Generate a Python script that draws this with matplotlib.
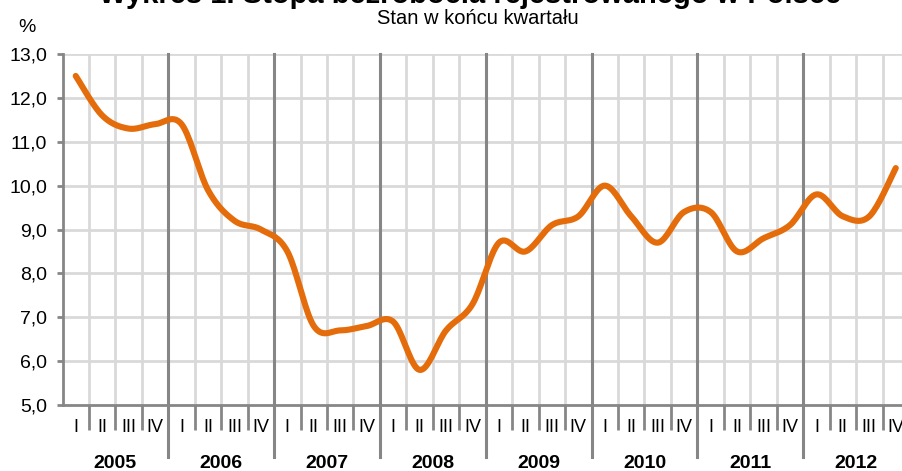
import matplotlib.pyplot as plt
import matplotlib.transforms as mtransforms
import numpy as np

# end-of-quarter values, 2005 Q1 .. 2012 Q4
years = ["2005", "2006", "2007", "2008", "2009", "2010", "2011", "2012"]
quarters = ["I", "II", "III", "IV"]
rate = [12.5, 11.6, 11.3, 11.4,
        11.4, 9.9, 9.2, 9.0,
        8.5, 6.8, 6.7, 6.8,
        6.9, 5.8, 6.7, 7.3,
        8.7, 8.5, 9.1, 9.3,
        10.0, 9.3, 8.7, 9.4,
        9.4, 8.5, 8.8, 9.1,
        9.8, 9.3, 9.3, 10.4]
yticks = [5, 6, 7, 8, 9, 10, 11, 12, 13]

orange = "#E46C0A"
light = "#D9D9D9"
dark = "#868686"

plt.rcParams['font.family'] = ['Liberation Sans', 'DejaVu Sans']


def smooth(x, y, n=20):
    # excel-like smoothed line (catmull-rom through the points)
    p = np.column_stack([x, y])
    p = np.vstack([p[0], p, p[-1]])
    out = []
    for i in range(1, len(p) - 2):
        p0, p1, p2, p3 = p[i - 1], p[i], p[i + 1], p[i + 2]
        c1 = p1 + (p2 - p0) / 6
        c2 = p2 - (p3 - p1) / 6
        t = np.linspace(0, 1, n)[:, None]
        seg = ((1 - t) ** 3 * p1 + 3 * (1 - t) ** 2 * t * c1
               + 3 * (1 - t) * t ** 2 * c2 + t ** 3 * p2)
        out.append(seg if i == 1 else seg[1:])
    s = np.vstack(out)
    return s[:, 0], s[:, 1]


W, H = 902, 471
fig = plt.figure(figsize=(W / 100, H / 100), dpi=100)
left, right, top, bottom = 62.5, 909, 54, 405
ph = bottom - top
ax = fig.add_axes([left / W, (H - bottom) / H, (right - left) / W, ph / H])

n = len(rate)
x = np.arange(n) + 0.5
ax.set_xlim(0, n)
ax.set_ylim(5, 13)

# grid
for v in yticks[1:]:
    ax.axhline(v, color=light, lw=2, zorder=1)
for b in range(1, n):
    if b % 4 == 0:
        ax.axvline(b, ymin=-52 / ph, ymax=1, color=dark, lw=2.2, zorder=2, clip_on=False)
    else:
        ax.axvline(b, color=light, lw=2, zorder=1)

sx, sy = smooth(x, rate)
ax.plot(sx, sy, color=orange, lw=4.4, solid_capstyle='round', zorder=3)

for s in ["top", "right"]:
    ax.spines[s].set_visible(False)
for s in ["left", "bottom"]:
    ax.spines[s].set_color(dark)
    ax.spines[s].set_linewidth(2)

ax.set_yticks(yticks)
ax.set_yticklabels([f"{v:.1f}".replace(".", ",") for v in yticks], fontsize=14)
ax.tick_params(axis='y', length=4, width=2, color=dark, pad=7)

ax.set_xticks(x)
ax.set_xticklabels(quarters * len(years), fontsize=13)
ax.tick_params(axis='x', which='major', length=0, pad=10)
ax.set_xticks([b for b in range(0, n + 1) if b % 4 != 0], minor=True)
ax.tick_params(axis='x', which='minor', length=18, width=2, color=dark)

trans = mtransforms.blended_transform_factory(ax.transData, ax.transAxes)
for k, yr in enumerate(years):
    ax.text(4 * k + 2, -58 / ph, yr, transform=trans, ha='center', va='center',
            fontsize=14, fontweight='bold')

fig.text(470 / W, 1 - 3 / H, "Wykres 1. Stopa bezrobocia rejestrowanego w Polsce",
         ha='center', va='baseline', fontsize=21, fontweight='bold')
fig.text(478 / W, 1 - 19 / H, "Stan w końcu kwartału", ha='center', va='center', fontsize=14.5)
fig.text(27 / W, 1 - 27 / H, "%", ha='center', va='center', fontsize=14)

fig.savefig("out.png", dpi=100)
